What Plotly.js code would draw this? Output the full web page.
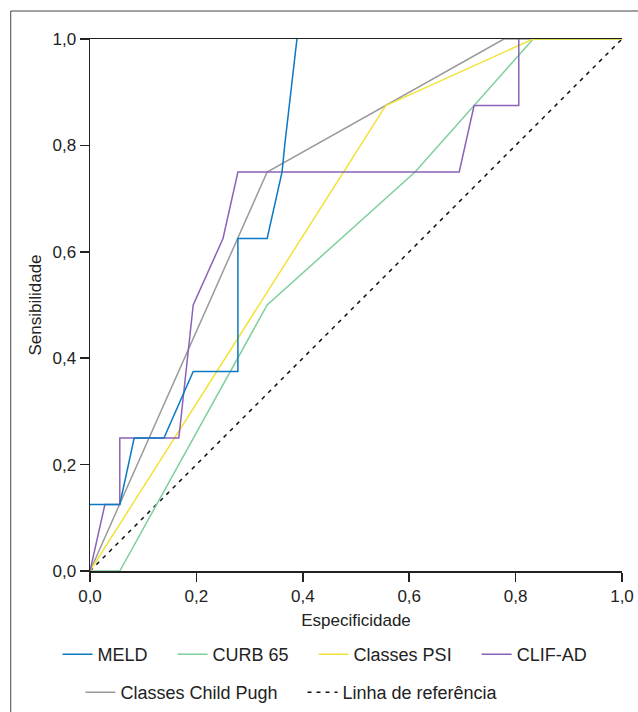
<!DOCTYPE html>
<html>
<head>
<meta charset="utf-8">
<script src="https://cdn.plot.ly/plotly-3.0.1.min.js"></script>
<style>html,body{margin:0;padding:0;background:#fff;}#chart{width:638px;height:712px;}</style>
</head>
<body>
<div id="chart"></div>
<script>
// Series (x = Especificidade axis value, y = Sensibilidade)
const meldX = [0, 0.056, 0.083, 0.139, 0.194, 0.278, 0.278, 0.333, 0.361, 0.366, 0.389];
const meldY = [0.125, 0.125, 0.25, 0.25, 0.375, 0.375, 0.625, 0.625, 0.75, 0.8, 1.0];
const curbX = [0, 0.056, 0.333, 0.611, 0.833, 1.0];
const curbY = [0, 0, 0.5, 0.75, 1.0, 1.0];
const psiX = [0, 0.556, 0.833, 1.0];
const psiY = [0, 0.875, 1.0, 1.0];
const clifX = [0, 0.028, 0.056, 0.056, 0.167, 0.194, 0.25, 0.278, 0.694, 0.722, 0.806, 0.806];
const clifY = [0, 0.125, 0.125, 0.25, 0.25, 0.5, 0.625, 0.75, 0.75, 0.875, 0.875, 1.0];
const childX = [0, 0.333, 0.778, 1.0];
const childY = [0, 0.75, 1.0, 1.0];
const refX = [0, 1];
const refY = [0, 1];

const seriesNames = ['MELD', 'CURB 65', 'Classes PSI', 'CLIF-AD', 'Classes Child Pugh', 'Linha de referência'];

const tickVals = [0, 0.2, 0.4, 0.6, 0.8, 1.0];
const tickText = ['0,0', '0,2', '0,4', '0,6', '0,8', '1,0'];

const FONT = 'Liberation Sans, Arial, Helvetica, sans-serif';
const PAD = '\u00a0\u00a0\u00a0\u00a0';

function tr(x, y, name, color, legend, rank, dash) {
  return {
    x: x, y: y, name: name + PAD, type: 'scatter', mode: 'lines',
    line: {color: color, width: 1.5, dash: dash || 'solid'},
    legend: legend, legendrank: rank, hoverinfo: 'skip'
  };
}

const data = [
  tr(childX, childY, seriesNames[4], '#9a9a9a', 'legend2', 5),
  tr(refX, refY, seriesNames[5], '#111111', 'legend2', 6, '4px,5px'),
  tr(curbX, curbY, seriesNames[1], '#7fcf9c', 'legend', 2),
  tr(psiX, psiY, seriesNames[2], '#f2e33a', 'legend', 3),
  tr(clifX, clifY, seriesNames[3], '#8b62b8', 'legend', 4),
  tr(meldX, meldY, seriesNames[0], '#0a78c2', 'legend', 1)
];

const axisCommon = {
  range: [0, 1], tickvals: tickVals, ticktext: tickText,
  showline: true, linecolor: '#222', linewidth: 1.5,
  ticks: 'outside', ticklen: 9, tickwidth: 1.5, tickcolor: '#222',
  showgrid: false, zeroline: false, fixedrange: true, automargin: false,
  tickfont: {family: FONT, size: 17, color: '#222'}
};

const layout = {
  width: 638, height: 712,
  margin: {l: 89.5, r: 16, t: 39, b: 141, autoexpand: false},
  paper_bgcolor: '#fff', plot_bgcolor: '#fff',
  font: {family: FONT, size: 17, color: '#222'},
  showlegend: true,
  xaxis: Object.assign({}, axisCommon, {
    mirror: true,
    title: {text: 'Especificidade', font: {family: FONT, size: 17, color: '#222'}, standoff: 9}
  }),
  yaxis: Object.assign({}, axisCommon, {
    title: {text: 'Sensibilidade', font: {family: FONT, size: 17, color: '#222'}, standoff: 6}
  }),
  legend: {
    orientation: 'h', x: -0.061, xanchor: 'left', y: -0.1222, yanchor: 'top',
    font: {family: FONT, size: 18, color: '#222'}, traceorder: 'normal',
    bgcolor: 'rgba(0,0,0,0)'
  },
  legend2: {
    orientation: 'h', x: -0.018, xanchor: 'left', y: -0.1936, yanchor: 'top',
    font: {family: FONT, size: 18, color: '#222'}, traceorder: 'normal',
    bgcolor: 'rgba(0,0,0,0)'
  },
  shapes: [
    {type: 'rect', xref: 'paper', yref: 'paper', x0: -0.149, x1: 1.3, y0: -0.5, y1: 1.0526,
     line: {color: '#444', width: 1}, fillcolor: 'rgba(0,0,0,0)', layer: 'below'}
  ]
};

Plotly.newPlot('chart', data, layout, {staticPlot: true, displayModeBar: false});
</script>
</body>
</html>
